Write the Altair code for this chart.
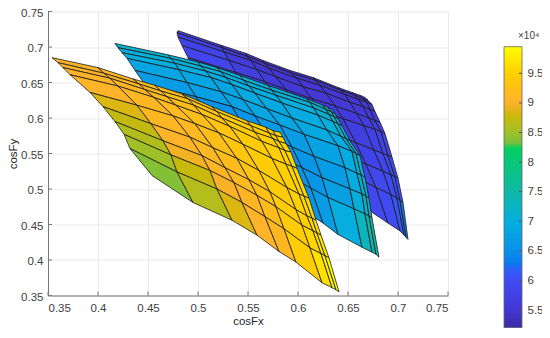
import altair as alt, pandas as pd

def grid(text):
    return [[int(v) / 1000 for v in row.split(",")] for row in text.split(";")]

YEL_X = grid("354,400,435,457,484,514,549,568,575,582;360,406,441,463,490,519,553,571,578,585;365,412,447,469,496,524,557,575,581,588;372,420,456,478,504,532,564,581,587,593;392,439,475,497,521,545,574,588,594,599;405,453,492,515,539,561,589,601,606,611;417,465,504,527,551,572,598,609,614,618;426,473,512,536,559,578,604,615,619,623;432,479,519,544,567,586,612,623,627,631;454,495,534,559,581,598,624,634,638,641")
YEL_Y = grid("685,671,655,646,634,616,596,587,582,580;678,663,648,638,627,609,589,579,575,573;671,656,640,630,618,600,580,571,567,564;661,645,629,618,605,588,567,558,554,552;636,618,603,592,579,563,543,535,532,529;616,592,573,558,543,526,502,493,490,487;595,568,547,530,513,496,471,462,459,456;577,548,526,509,491,475,449,441,438,435;557,524,500,481,461,444,417,409,406,403;519,481,456,435,412,397,368,361,358,355")
BLU_X = grid("417,470,500,519,542,570,609,625,630,634;420,473,503,523,546,574,612,628,633,637;424,477,508,528,551,578,616,631,636,640;429,481,513,534,557,584,620,635,640,644;437,489,523,545,569,594,629,643,648,652;447,498,534,557,582,606,640,654,658,662;462,510,546,570,594,616,647,659,663,667;477,520,556,580,604,624,652,664,668,671;492,530,566,590,613,630,656,667,671,674;512,542,577,602,625,640,664,674,678,681")
BLU_Y = grid("705,689,679,671,660,646,627,618,615,612;699,684,673,665,653,639,622,612,609,606;692,677,666,657,645,632,614,605,602,599;684,668,657,647,635,621,604,595,592,589;667,650,637,626,613,600,583,574,571,568;647,630,616,603,590,577,561,553,550,547;625,606,589,574,559,546,530,522,520,516;604,583,563,546,530,516,500,493,490,487;582,560,538,519,501,488,472,465,462,459;554,526,498,473,452,436,418,411,408,404")
PUR_X = grid("480,524,548,565,592,615,640,654,662,667;479,524,549,567,594,618,643,657,665,670;480,526,553,571,599,622,647,661,669,674;484,531,559,578,605,628,652,665,672,677;490,538,567,588,614,637,659,671,677,682;497,546,577,598,624,645,666,677,683,687;507,556,589,612,637,658,676,685,690,694;517,565,600,624,648,668,685,693,697,700;530,576,611,636,658,678,693,699,702,705;552,592,627,652,672,690,702,706,708,710")
PUR_Y = grid("723,702,691,681,667,657,643,636,632,629;720,699,687,677,663,653,639,632,627,625;714,693,681,670,656,646,633,626,622,619;702,681,668,658,644,635,622,616,612,609;685,664,651,640,627,617,606,600,596,594;667,646,632,621,609,599,589,584,581,578;646,621,604,589,576,565,555,550,547,545;625,597,577,561,547,535,525,520,517,515;608,576,552,531,516,502,492,487,484,481;582,543,512,487,469,452,441,435,432,429")

YEL_V = [[9.05,9.10,9.15,9.22,9.30,9.40,9.45,9.50,9.55],
 [9.05,9.10,9.15,9.22,9.30,9.40,9.45,9.50,9.55],
 [9.05,9.10,9.15,9.22,9.30,9.40,9.45,9.50,9.55],
 [9.05,9.10,9.15,9.22,9.32,9.42,9.47,9.52,9.55],
 [8.85,9.10,9.12,9.22,9.35,9.42,9.48,9.52,9.58],
 [8.72,9.05,9.12,9.18,9.30,9.42,9.50,9.55,9.60],
 [8.60,8.95,9.08,9.15,9.25,9.42,9.50,9.60,9.65],
 [8.50,8.75,8.98,9.08,9.18,9.42,9.55,9.65,9.75],
 [8.38,8.62,8.85,9.05,9.10,9.45,9.65,9.80,9.92]]
BLU_V = [[7.15,7.15,7.15,7.15,7.15,7.15,7.2,7.25,7.3],
 [7.05,7.05,7.05,7.05,7.05,7.1,7.15,7.25,7.3],
 [7.0,7.0,7.0,7.0,7.0,7.05,7.1,7.2,7.25],
 [6.85,6.85,6.85,6.9,6.9,6.95,7.05,7.15,7.2],
 [6.7,6.75,6.8,6.85,6.85,6.9,7.0,7.15,7.2],
 [6.55,6.55,6.6,6.65,6.7,6.8,6.95,7.1,7.2],
 [6.5,6.5,6.55,6.55,6.6,6.7,6.95,7.1,7.2],
 [6.5,6.5,6.5,6.55,6.6,6.75,7.05,7.2,7.3],
 [6.5,6.5,6.5,6.55,6.7,7.0,7.3,7.45,7.55]]
PUR_V = [[5.7,5.55,5.45,5.45,5.45,5.45,5.45,5.5,5.5],
 [5.7,5.55,5.45,5.45,5.45,5.45,5.45,5.5,5.5],
 [5.8,5.6,5.5,5.5,5.5,5.5,5.5,5.55,5.55],
 [5.85,5.7,5.6,5.55,5.55,5.55,5.6,5.6,5.6],
 [5.9,5.8,5.65,5.6,5.6,5.6,5.65,5.7,5.75],
 [5.9,5.85,5.7,5.65,5.65,5.7,5.75,5.8,5.85],
 [5.95,5.9,5.8,5.75,5.75,5.8,5.85,5.9,5.95],
 [6.0,6.0,5.9,5.85,5.85,5.9,5.95,6.0,6.05],
 [6.0,6.0,6.0,6.0,5.9,5.95,6.1,6.2,6.3]]

STOPS = [5.12,5.5,6.0,6.2,6.27,6.5,7.0,7.5,8.0,8.25,8.3,8.5,8.8,9.0,9.5,9.95]
COLS = ['#3b2a98','#4436d4','#3f4cf5','#2f60f8','#0a78f0','#0a90e8','#05aede','#10b8a8','#08c878','#00d060','#70c040','#a0c028','#d0b808','#feb02c','#ffd000','#ffff00']
TICKS = [.35,.4,.45,.5,.55,.6,.65,.7,.75]
CB_TICKS = [55000,60000,65000,70000,75000,80000,85000,90000,95000]
CB_LO, CB_BOTTOM, CB_HI, CB_STEP = 51200, 52000, 99500, 500
F = 'Liberation Sans'
AXC = '#777777'

rows = []
for sid, (X, Y, V) in enumerate([(PUR_X,PUR_Y,PUR_V),(BLU_X,BLU_Y,BLU_V),(YEL_X,YEL_Y,YEL_V)]):
    for r in range(9):
        for j in range(9):
            cid = (sid+1)*100 + r*10 + j
            for o,(a,b) in enumerate([(r,j),(r,j+1),(r+1,j+1),(r+1,j),(r,j)]):
                rows.append(dict(x=X[a][b], y=Y[a][b], v=V[r][j]*1e4, cell=cid, o=o))
df = pd.DataFrame(rows)
cb = pd.DataFrame([dict(lo=v, hi=min(v+2*CB_STEP, CB_HI), c=v+CB_STEP/2) for v in range(CB_BOTTOM, CB_HI, CB_STEP)])
cb_frame = pd.DataFrame({'lo':[CB_BOTTOM], 'hi':[CB_HI]})
cb_t = pd.DataFrame({'v':CB_TICKS})
tk = pd.DataFrame({'t':TICKS})

xs = alt.Scale(domain=[.35,.75], nice=False, zero=False)
ys = alt.Scale(domain=[.35,.75], nice=False, zero=False)
fs = alt.Scale(domain=[s*1e4 for s in STOPS], range=COLS, interpolate='rgb')
cbs = alt.Scale(domain=[CB_LO, CB_HI], range=[321, 35.2], nice=False, zero=False)

surf = alt.Chart(df).mark_line(stroke='#1a1a1a', strokeWidth=0.8, strokeJoin='round').encode(
    x=alt.X('x:Q', scale=xs, axis=alt.Axis(values=TICKS, format='.2~f', title='cosFx', tickSize=0, labelPadding=7, titlePadding=1)),
    y=alt.Y('y:Q', scale=ys, axis=alt.Axis(values=TICKS, format='.2~f', title='cosFy', tickSize=0, labelPadding=5, titlePadding=2, labelOffset=1.5)),
    fill=alt.Fill('v:Q', scale=fs, legend=None),
    order='o:Q', detail='cell:N')
tx = alt.Chart(tk).mark_rule(color=AXC, strokeWidth=1).encode(
    x=alt.X('t:Q', scale=xs, axis=None), y=alt.value(284), y2=alt.value(280))
ty = alt.Chart(tk).mark_rule(color=AXC, strokeWidth=1).encode(
    y=alt.Y('t:Q', scale=ys, axis=None), x=alt.value(0), x2=alt.value(4))
bar = alt.Chart(cb).mark_rect().encode(
    x=alt.value(456), x2=alt.value(474),
    y=alt.Y('lo:Q', scale=cbs, axis=alt.Axis(orient='right', offset=74, values=CB_TICKS, labelExpr='datum.value/10000',
        title=None, grid=False, tickSize=0, domain=False, labelPadding=5)),
    y2='hi:Q', fill=alt.Fill('c:Q', scale=fs, legend=None))
frame = alt.Chart(cb_frame).mark_rect(fillOpacity=0, stroke='#666666', strokeWidth=0.8).encode(
    x=alt.value(456), x2=alt.value(474), y=alt.Y('lo:Q', scale=cbs, axis=None), y2='hi:Q')
bt = alt.Chart(cb_t).mark_rule(color='#555555', strokeWidth=1).encode(
    y=alt.Y('v:Q', scale=cbs, axis=None), x=alt.value(471), x2=alt.value(474))
exp = alt.Chart(pd.DataFrame({'s':['×10⁴']})).mark_text(align='left', baseline='middle', font=F, fontSize=10, color='#404040').encode(
    text='s:N', x=alt.value(470), y=alt.value(24.5))

chart = alt.layer(surf, tx, ty, bar, frame, bt, exp).resolve_scale(y='independent', x='independent').properties(
        width=400, height=284, padding={'left':40,'top':3.5,'right':94,'bottom':32.5}, autosize='none'
    ).configure_view(stroke=None).configure_axis(grid=True, gridColor='#e9e9e9', domainColor=AXC,
        labelColor='#404040', titleColor='#262626', labelFont=F, titleFont=F, labelFontSize=11.5,
        titleFontSize=11.5, titleFontWeight='normal')
chart.save("out.html", embed_options={"renderer": "svg", "actions": False})
